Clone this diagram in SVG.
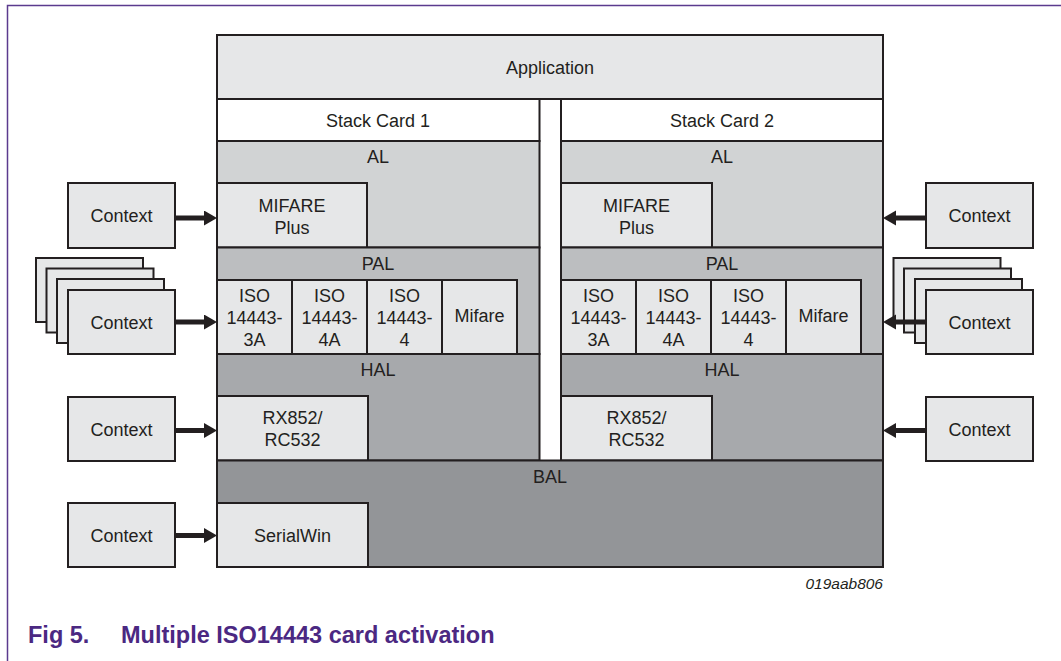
<svg xmlns="http://www.w3.org/2000/svg" width="1061" height="661" viewBox="0 0 1061 661">
<defs>
<style>
.t{font-family:"Liberation Sans",Arial,sans-serif;font-size:18px;fill:#231f20;text-anchor:middle}
.b{stroke:#231f20;stroke-width:2}
.lt{fill:#e6e7e8}
.wh{fill:#ffffff}
.al{fill:#d1d3d4}
.pal{fill:#bcbec0}
.hal{fill:#a7a9ac}
.bal{fill:#939598}
.arr{stroke:#231f20;stroke-width:5;fill:none}
.frame{stroke:#5b3b8e;stroke-width:1.5;fill:none}
.cap{font-family:"Liberation Sans",Arial,sans-serif;font-size:23.5px;font-weight:bold;fill:#4b2882}
.id{font-family:"Liberation Sans",Arial,sans-serif;font-size:15.5px;font-style:italic;fill:#231f20;text-anchor:end}
</style>
<marker id="ah" markerUnits="userSpaceOnUse" markerWidth="14" markerHeight="16" refX="0" refY="7.5" orient="auto" viewBox="0 0 14 16">
<path d="M0,0 L13,7.5 L0,15 z" fill="#231f20"/>
</marker>
</defs>
<rect x="0" y="0" width="1061" height="661" fill="#ffffff"/>
<path class="frame" d="M7.5,661 V5.5 H1061"/>

<g id="application"><rect class="b lt" x="217" y="35" width="666" height="64"/><text class="t" x="550" y="74">Application</text></g>

<g id="stack-card-1"><rect class="b wh" x="217" y="99" width="322.5" height="42"/><text class="t" x="378" y="126.5">Stack Card 1</text></g>
<g id="al-1"><rect class="b al" x="217" y="141" width="322.5" height="106.5"/><text class="t" x="378" y="163">AL</text></g>
<g id="mifare-plus-1"><rect class="b lt" x="217" y="183" width="150" height="64.5"/><text class="t" x="292" y="211.5">MIFARE</text><text class="t" x="292" y="233.5">Plus</text></g>
<g id="pal-1"><rect class="b pal" x="217" y="247.5" width="322.5" height="106.5"/><text class="t" x="378" y="269.5">PAL</text></g>
<g id="iso-3a-1"><rect class="b lt" x="217" y="280" width="75" height="74"/><text class="t" x="254.5" y="301.5">ISO</text><text class="t" x="254.5" y="323.5">14443-</text><text class="t" x="254.5" y="345.5">3A</text></g>
<g id="iso-4a-1"><rect class="b lt" x="292" y="280" width="75" height="74"/><text class="t" x="329.5" y="301.5">ISO</text><text class="t" x="329.5" y="323.5">14443-</text><text class="t" x="329.5" y="345.5">4A</text></g>
<g id="iso-4-1"><rect class="b lt" x="367" y="280" width="75" height="74"/><text class="t" x="404.5" y="301.5">ISO</text><text class="t" x="404.5" y="323.5">14443-</text><text class="t" x="404.5" y="345.5">4</text></g>
<g id="mifare-1"><rect class="b lt" x="442" y="280" width="75" height="74"/><text class="t" x="479.5" y="322">Mifare</text></g>
<g id="hal-1"><rect class="b hal" x="217" y="354" width="322.5" height="106.5"/><text class="t" x="378" y="376">HAL</text></g>
<g id="rx852-1"><rect class="b lt" x="217" y="396" width="151" height="64.5"/><text class="t" x="292.5" y="424">RX852/</text><text class="t" x="292.5" y="446">RC532</text></g>

<g id="stack-card-2"><rect class="b wh" x="561" y="99" width="322" height="42"/><text class="t" x="722" y="126.5">Stack Card 2</text></g>
<g id="al-2"><rect class="b al" x="561" y="141" width="322" height="106.5"/><text class="t" x="722" y="163">AL</text></g>
<g id="mifare-plus-2"><rect class="b lt" x="561" y="183" width="151" height="64.5"/><text class="t" x="636.5" y="211.5">MIFARE</text><text class="t" x="636.5" y="233.5">Plus</text></g>
<g id="pal-2"><rect class="b pal" x="561" y="247.5" width="322" height="106.5"/><text class="t" x="722" y="269.5">PAL</text></g>
<g id="iso-3a-2"><rect class="b lt" x="561" y="280" width="75" height="74"/><text class="t" x="598.5" y="301.5">ISO</text><text class="t" x="598.5" y="323.5">14443-</text><text class="t" x="598.5" y="345.5">3A</text></g>
<g id="iso-4a-2"><rect class="b lt" x="636" y="280" width="75" height="74"/><text class="t" x="673.5" y="301.5">ISO</text><text class="t" x="673.5" y="323.5">14443-</text><text class="t" x="673.5" y="345.5">4A</text></g>
<g id="iso-4-2"><rect class="b lt" x="711" y="280" width="75" height="74"/><text class="t" x="748.5" y="301.5">ISO</text><text class="t" x="748.5" y="323.5">14443-</text><text class="t" x="748.5" y="345.5">4</text></g>
<g id="mifare-2"><rect class="b lt" x="786" y="280" width="75" height="74"/><text class="t" x="823.5" y="322">Mifare</text></g>
<g id="hal-2"><rect class="b hal" x="561" y="354" width="322" height="106.5"/><text class="t" x="722" y="376">HAL</text></g>
<g id="rx852-2"><rect class="b lt" x="561" y="396" width="151" height="64.5"/><text class="t" x="636.5" y="424">RX852/</text><text class="t" x="636.5" y="446">RC532</text></g>

<g id="bal"><rect class="b bal" x="217" y="460.5" width="666" height="106.5"/><text class="t" x="550" y="482.5">BAL</text></g>
<g id="serialwin"><rect class="b lt" x="217" y="503" width="151" height="64"/><text class="t" x="292.5" y="542">SerialWin</text></g>

<g id="context-l1"><rect class="b lt" x="68" y="183" width="107" height="65"/><text class="t" x="121.5" y="222">Context</text></g>
<g id="context-l2"><rect class="b lt" x="36" y="258" width="107" height="64"/><rect class="b lt" x="46.5" y="268.5" width="107" height="64"/><rect class="b lt" x="57" y="279" width="107" height="64"/><rect class="b lt" x="68" y="290" width="107" height="64"/><text class="t" x="121.5" y="329">Context</text></g>
<g id="context-l3"><rect class="b lt" x="68" y="397" width="107" height="64"/><text class="t" x="121.5" y="435.5">Context</text></g>
<g id="context-l4"><rect class="b lt" x="68" y="503" width="107" height="64"/><text class="t" x="121.5" y="542">Context</text></g>

<g id="context-r1"><rect class="b lt" x="926" y="183" width="107" height="65"/><text class="t" x="979.5" y="222">Context</text></g>
<g id="context-r2"><rect class="b lt" x="893.5" y="258" width="107" height="64"/><rect class="b lt" x="904" y="268.5" width="107" height="64"/><rect class="b lt" x="915" y="279" width="107" height="64"/><rect class="b lt" x="926" y="290" width="107" height="64"/><text class="t" x="979.5" y="329">Context</text></g>
<g id="context-r3"><rect class="b lt" x="926" y="397" width="107" height="64"/><text class="t" x="979.5" y="435.5">Context</text></g>

<g id="connectors">
<line class="arr" x1="175" y1="218" x2="204" y2="218" marker-end="url(#ah)"/>
<line class="arr" x1="175" y1="322" x2="204" y2="322" marker-end="url(#ah)"/>
<line class="arr" x1="175" y1="430.5" x2="204" y2="430.5" marker-end="url(#ah)"/>
<line class="arr" x1="175" y1="535.5" x2="204" y2="535.5" marker-end="url(#ah)"/>
<line class="arr" x1="926" y1="218" x2="896" y2="218" marker-end="url(#ah)"/>
<line class="arr" x1="926" y1="322" x2="896" y2="322" marker-end="url(#ah)"/>
<line class="arr" x1="926" y1="430.5" x2="896" y2="430.5" marker-end="url(#ah)"/>
</g>

<text class="id" x="883" y="589">019aab806</text>
<text class="cap" x="28" y="643">Fig 5.</text>
<text class="cap" x="121" y="643">Multiple ISO14443 card activation</text>
</svg>
